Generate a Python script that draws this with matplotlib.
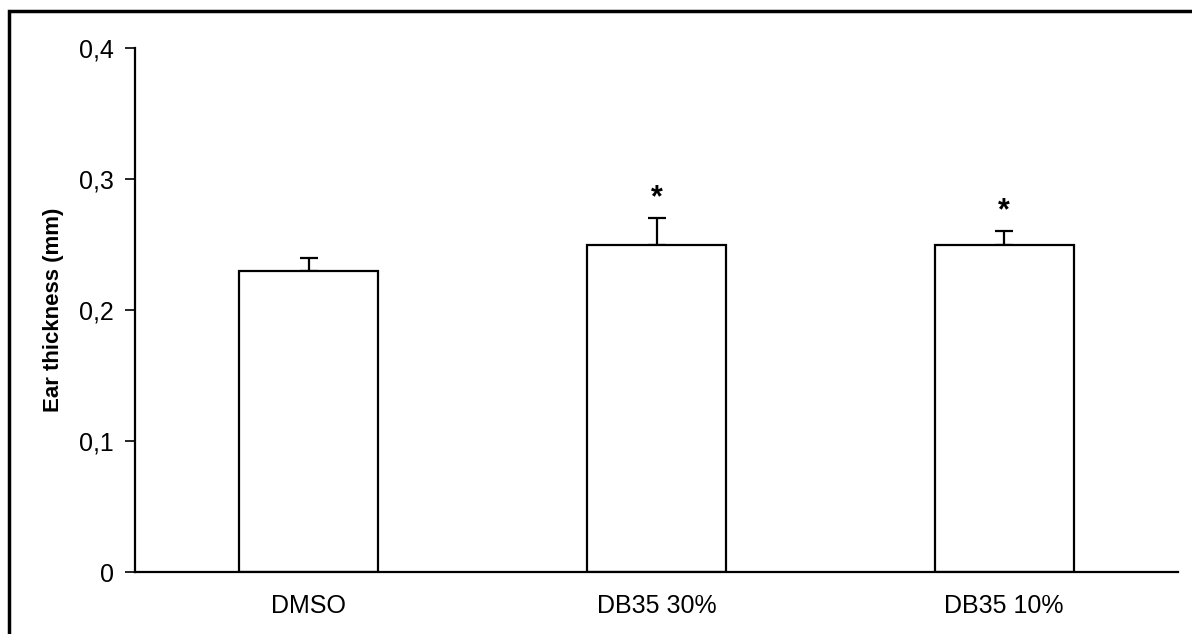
import matplotlib
matplotlib.use("Agg")
import matplotlib.pyplot as plt
from matplotlib.patches import Rectangle

# Ear thickness per treatment group
groups = ["DMSO", "DB35 30%", "DB35 10%"]
thickness = [0.23, 0.25, 0.25]
sem = [0.01, 0.02, 0.01]
signif = ["", "*", "*"]

plt.rcParams["font.family"] = ["Liberation Sans", "DejaVu Sans"]

fig = plt.figure(figsize=(11.92, 6.34), dpi=100)
ax = fig.add_axes([135 / 1192, 1 - 572 / 634, (1178 - 135) / 1192, (572 - 48) / 634])

x = range(len(groups))
ax.bar(x, thickness, width=0.40, color="white", edgecolor="black", linewidth=1.6, zorder=2)
# one-sided (upper) error bars
ax.errorbar(x, thickness, yerr=[[0] * len(sem), sem], fmt="none", ecolor="black",
            elinewidth=1.6, capsize=6.5, capthick=1.6, zorder=1)

for xi, (v, e, s) in enumerate(zip(thickness, sem, signif)):
    if s:
        ax.text(xi, v + e + 0.004, s, ha="center", va="bottom", fontsize=22, fontweight="bold")

ax.set_xlim(-0.5, 2.5)
ax.set_ylim(0, 0.4)
ax.set_yticks([0, 0.1, 0.2, 0.3, 0.4])
ax.set_yticklabels(["0", "0,1", "0,2", "0,3", "0,4"])
ax.set_xticks(list(x))
ax.set_xticklabels(groups)
ax.tick_params(axis="y", direction="out", length=7, width=1.2, labelsize=18, pad=8)
ax.tick_params(axis="x", length=0, labelsize=18, pad=16)
ax.set_ylabel("Ear thickness (mm)", fontsize=16, fontweight="bold", labelpad=11)

for side in ["top", "right"]:
    ax.spines[side].set_visible(False)
for side in ["left", "bottom"]:
    ax.spines[side].set_linewidth(1.6)

# outer frame (only top and left edges fall inside the canvas)
fig.patches.append(Rectangle((9 / 1192, -0.1), 1.2, 1 - 11 / 634 + 0.1,
                             transform=fig.transFigure, fill=False,
                             edgecolor="black", linewidth=2.5))

fig.savefig("out.png", dpi=100)
